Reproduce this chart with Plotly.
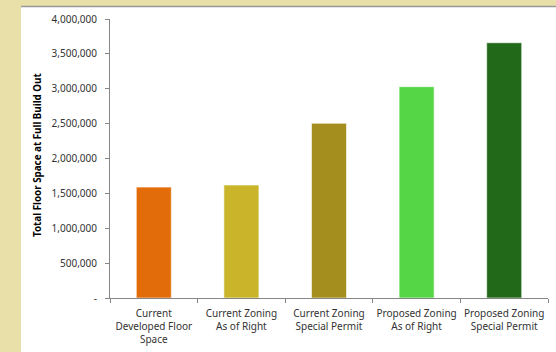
import plotly.graph_objects as go

categories = ["Current<br>Developed Floor<br>Space", "Current Zoning<br>As of Right",
              "Current Zoning<br>Special Permit", "Proposed Zoning<br>As of Right",
              "Proposed Zoning<br>Special Permit"]
values = [1590000, 1620000, 2505000, 3030000, 3660000]
colors = ["#E36C0A", "#C9B42A", "#A48F1E", "#55D646", "#23691A"]
ytick_vals = [0, 500000, 1000000, 1500000, 2000000, 2500000, 3000000, 3500000, 4000000]
ytick_text = ["-", "500,000", "1,000,000", "1,500,000", "2,000,000", "2,500,000",
              "3,000,000", "3,500,000", "4,000,000"]
y_title = "Total Floor Space at Full Build Out"

W, H = 556, 352
L, R, T, B = 110, 8, 19, 54
pw, ph = W - L - R, H - T - B

def px_x(p):
    return (p - L) / pw

def px_y(p):
    return (H - B - p) / ph

fig = go.Figure(go.Bar(
    x=categories, y=values,
    marker=dict(color=colors, line=dict(color="rgba(255,255,255,0.6)", width=1)),
    width=0.4,
))

font = "Noto Sans, DejaVu Sans, sans-serif"
fig.update_layout(
    width=W, height=H,
    margin=dict(l=L, r=R, t=T, b=B, autoexpand=False),
    paper_bgcolor="#E8E0A8",
    plot_bgcolor="white",
    showlegend=False,
    font=dict(family=font, size=10, color="#333333"),
    shapes=[
        dict(type="rect", xref="paper", yref="paper", layer="below",
             x0=px_x(21), x1=px_x(W + 2), y0=px_y(H + 2), y1=px_y(7),
             fillcolor="white", line=dict(width=0)),
        dict(type="line", xref="paper", yref="paper", layer="below",
             x0=px_x(21), x1=px_x(W + 2), y0=px_y(6.5), y1=px_y(6.5),
             line=dict(color="#999999", width=1.5)),
    ],
    annotations=[
        dict(text="<b>" + y_title + "</b>", xref="paper", yref="paper",
             x=px_x(37), y=px_y(155), textangle=-90, showarrow=False,
             font=dict(family=font, size=9.8, color="#000000"),
             xanchor="center", yanchor="middle"),
    ],
)
fig.update_yaxes(
    range=[0, 4000000], tickvals=ytick_vals, ticktext=ytick_text,
    showline=True, linecolor="#868686", linewidth=1,
    ticks="outside", ticklen=4, tickcolor="#868686",
    showgrid=False, zeroline=False, ticklabelstandoff=6,
    tickfont=dict(size=10, color="#333333"),
)
fig.update_xaxes(
    showline=True, linecolor="#868686", linewidth=1,
    ticks="outside", ticklen=4, tickcolor="#868686", tickson="boundaries",
    showgrid=False, ticklabelstandoff=6,
    tickfont=dict(size=10, color="#333333"),
    tickangle=0,
)
fig.write_html("out.html")
